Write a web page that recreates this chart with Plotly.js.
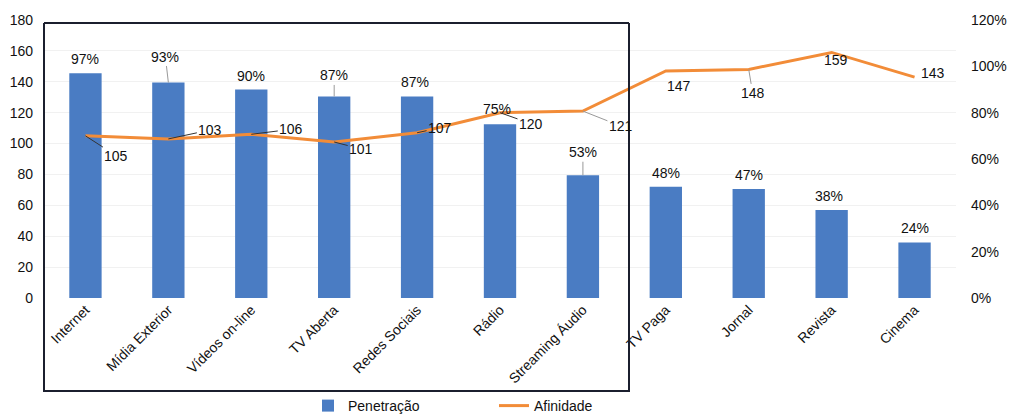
<!DOCTYPE html>
<html>
<head>
<meta charset="utf-8">
<script src="https://cdn.plot.ly/plotly-3.0.1.min.js"></script>
<style>html,body{margin:0;padding:0;background:#fff;}#chart{width:1009px;height:414px;}</style>
</head>
<body>
<div id="chart"></div>
<script>
var categories = ["Internet", "Mídia Exterior", "Vídeos on-line", "TV Aberta", "Redes Sociais", "Rádio", "Streaming Áudio", "TV Paga", "Jornal", "Revista", "Cinema"];
var penetracao = [97, 93, 90, 87, 87, 75, 53, 48, 47, 38, 24];
var afinidade = [105, 103, 106, 101, 107, 120, 121, 147, 148, 159, 143];
var leftTicks = [0, 20, 40, 60, 80, 100, 120, 140, 160, 180];
var rightTicks = [0, 20, 40, 60, 80, 100, 120];

// label placement (pixel offsets of label centre from the mark) and leader colours
var barLabelOffsets = [[0,-14],[-3,-26],[0,-14],[0,-21],[-2,-14],[-3,-15],[0,-23],[0,-14],[0,-14],[-3,-14],[0,-14]];
var barLeader = [0,1,0,1,0,0,1,0,0,0,0];
var lineLabelOffsets = [[31,20],[42,-9],[40,-5],[27,7],[23,-5],[31,11],[38,15],[13,15],[4,24],[4,8],[18,-4]];
var lineLeader = [1,1,1,1,1,1,2,0,2,0,0];

var blue = "#4A7CC3";
var orange = "#F28C38";
var fontFam = "Liberation Sans, Arial, sans-serif";

var traces = [
  {
    type: "bar", name: "Penetração", x: categories, y: penetracao,
    yaxis: "y", marker: {color: blue}, hoverinfo: "x+y"
  },
  {
    type: "scatter", mode: "lines", name: "Afinidade", x: categories, y: afinidade,
    yaxis: "y2", line: {color: orange, width: 3}
  }
];

var annotations = [];
var leaderColors = ["rgba(0,0,0,0)", "#333", "#999"];
categories.forEach(function (c, i) {
  annotations.push({
    x: c, y: penetracao[i], xref: "x", yref: "y",
    text: penetracao[i] + "%", showarrow: true,
    ax: barLabelOffsets[i][0], ay: barLabelOffsets[i][1],
    arrowhead: 0, arrowwidth: 1, arrowcolor: leaderColors[barLeader[i] ? 2 : 0],
    font: {family: fontFam, size: 14, color: "#111"}
  });
  annotations.push({
    x: c, y: afinidade[i], xref: "x", yref: "y2",
    text: String(afinidade[i]), showarrow: true,
    ax: lineLabelOffsets[i][0], ay: lineLabelOffsets[i][1],
    arrowhead: 0, arrowwidth: 1, arrowcolor: leaderColors[lineLeader[i]],
    font: {family: fontFam, size: 14, color: "#111"}
  });
});

var W = 1009, H = 414, ml = 44, mr = 53, mt = 20, mb = 116;
var pw = W - ml - mr, ph = H - mt - mb;
function px(x) { return (x - ml) / pw; }
function py(y) { return (H - mb - y) / ph; }

var frameColor = "#1b1f2e";
function seg(x0, y0, x1, y1) {
  return {type: "line", xref: "paper", yref: "paper", x0: px(x0), y0: py(y0), x1: px(x1), y1: py(y1),
          line: {color: frameColor, width: 2}, layer: "above"};
}

var layout = {
  width: W, height: H,
  margin: {l: ml, r: mr, t: mt, b: mb, pad: 0, autoexpand: false},
  paper_bgcolor: "#fff", plot_bgcolor: "#fff",
  font: {family: fontFam, size: 13, color: "#111"},
  bargap: 0.61,
  showlegend: true,
  legend: {orientation: "h", x: px(308), xanchor: "left", y: py(406), yanchor: "middle",
           bgcolor: "rgba(0,0,0,0)",
           font: {family: fontFam, size: 14, color: "#111"}, tracegroupgap: 0,
           entrywidth: 141, entrywidthmode: "pixels",
           traceorder: "normal"},
  xaxis: {type: "category", tickangle: -45, showgrid: false, zeroline: false, showline: false,
          ticks: "", automargin: false, tickfont: {family: fontFam, size: 14, color: "#111"}},
  yaxis: {side: "right", range: [0, 120], tickvals: rightTicks, ticktext: rightTicks.map(function (v) { return v + "%"; }),
          showgrid: false, zeroline: false, showline: false, ticks: "", ticklabelstandoff: 14,
          automargin: false, tickfont: {family: fontFam, size: 14, color: "#111"}},
  yaxis2: {side: "left", overlaying: "y", range: [0, 180], tickvals: leftTicks,
           showgrid: true, gridcolor: "#f1f1f1", zeroline: false, showline: false, ticks: "",
           ticklabelstandoff: 10, automargin: false,
           tickfont: {family: fontFam, size: 14, color: "#111"}},
  annotations: annotations,
  shapes: [
    seg(44, 23, 629, 23),
    seg(44, 23, 44, 392),
    seg(629, 23, 629, 392),
    seg(44, 391, 629, 391)
  ]
};

Plotly.newPlot("chart", traces, layout, {displayModeBar: false, staticPlot: true});
</script>
</body>
</html>
